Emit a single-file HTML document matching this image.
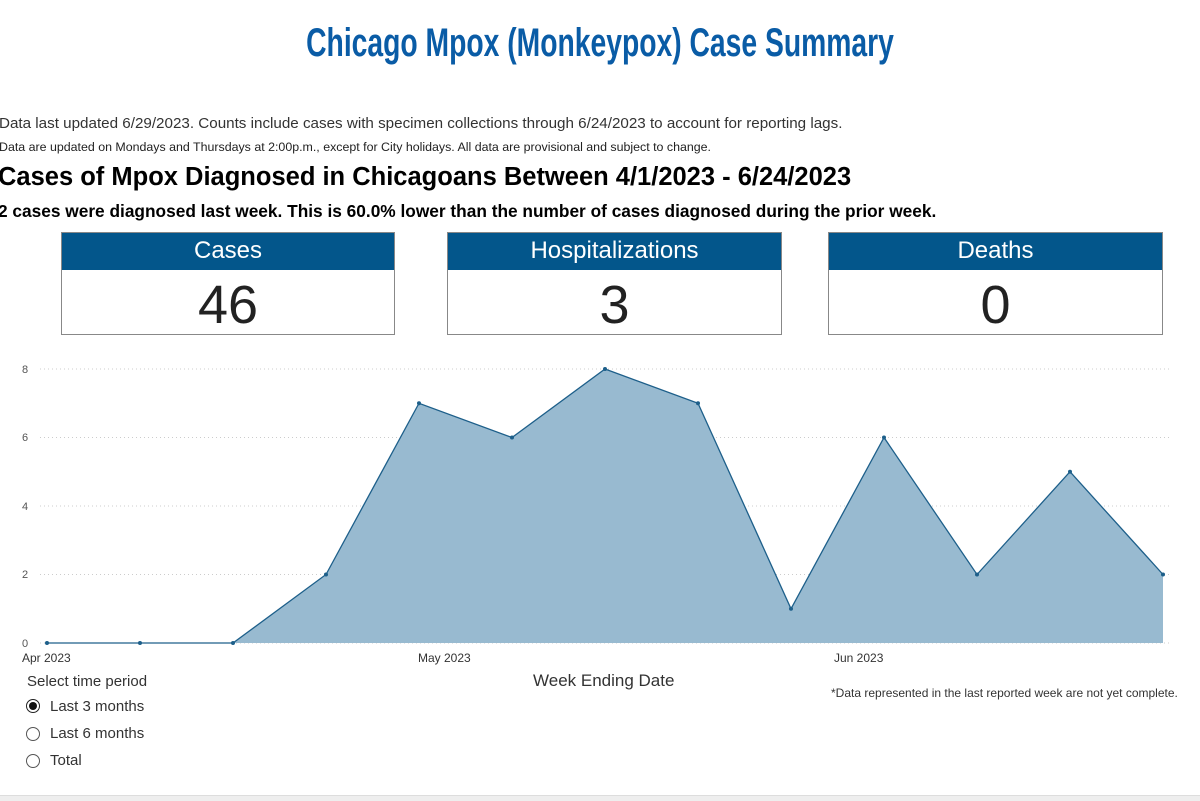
<!DOCTYPE html>
<html><head><meta charset="utf-8"><style>
body{margin:0;width:1200px;height:800px;background:#fff;position:relative;overflow:hidden;font-family:"Liberation Sans",sans-serif;}
.a{position:absolute;white-space:nowrap;}
.box{position:absolute;top:232px;height:101px;border:1px solid #888;background:#fff;}
.box .h{height:37px;background:#03568b;color:#fff;font-size:24px;text-align:center;line-height:36px;}
.box .v{font-size:54px;color:#222;text-align:center;line-height:70px;}
.r{position:absolute;left:26px;width:14px;height:14px;border:1px solid #555;border-radius:50%;box-sizing:border-box;}
</style></head><body>
<div class="a" style="left:0;width:1200px;text-align:center;top:21px;font-weight:bold;font-size:40px;color:#0a5ca6;transform:scaleX(0.707);transform-origin:600px 0;">Chicago Mpox (Monkeypox) Case Summary</div>
<div class="a" style="left:-1px;top:115px;font-size:15.2px;color:#333;">Data last updated 6/29/2023. Counts include cases with specimen collections through 6/24/2023 to account for reporting lags.</div>
<div class="a" style="left:-1px;top:140px;font-size:12.4px;color:#222;">Data are updated on Mondays and Thursdays at 2:00p.m., except for City holidays. All data are provisional and subject to change.</div>
<div class="a" style="left:-2px;top:163px;font-size:25.5px;font-weight:bold;color:#000;">Cases of Mpox Diagnosed in Chicagoans Between 4/1/2023 - 6/24/2023</div>
<div class="a" style="left:-2px;top:201px;font-size:17.3px;font-weight:bold;color:#000;">2 cases were diagnosed last week. This is 60.0% lower than the number of cases diagnosed during the prior week.</div>
<div class="box" style="left:61px;width:332px;"><div class="h">Cases</div><div class="v">46</div></div>
<div class="box" style="left:447px;width:333px;"><div class="h">Hospitalizations</div><div class="v">3</div></div>
<div class="box" style="left:828px;width:333px;"><div class="h">Deaths</div><div class="v">0</div></div>
<svg class="a" style="left:0;top:0" width="1200" height="800">
<g stroke="#ccc" stroke-dasharray="1,3" stroke-width="1">
<line x1="40" x2="1170" y1="369" y2="369"/><line x1="40" x2="1170" y1="437.5" y2="437.5"/><line x1="40" x2="1170" y1="506" y2="506"/><line x1="40" x2="1170" y1="574.5" y2="574.5"/><line x1="40" x2="1170" y1="643" y2="643"/>
</g>
<g font-size="11" fill="#555" font-family="Liberation Sans" text-anchor="middle">
<text x="25" y="373">8</text><text x="25" y="441">6</text><text x="25" y="510">4</text><text x="25" y="578">2</text><text x="25" y="647">0</text>
</g>
<polygon fill="#98bad0" points="47,643 140,643 233,643 326,574.5 419,403.25 512,437.5 605,369 698,403.25 791,608.75 884,437.5 977,574.5 1070,471.75 1163,574.5 1163,643"/>
<polyline fill="none" stroke="#1d5f8a" stroke-width="1.3" points="47,643 140,643 233,643 326,574.5 419,403.25 512,437.5 605,369 698,403.25 791,608.75 884,437.5 977,574.5 1070,471.75 1163,574.5"/>
<g fill="#1d5f8a">
<circle cx="47" cy="643" r="2"/><circle cx="140" cy="643" r="2"/><circle cx="233" cy="643" r="2"/><circle cx="326" cy="574.5" r="2"/><circle cx="419" cy="403.25" r="2"/><circle cx="512" cy="437.5" r="2"/><circle cx="605" cy="369" r="2"/><circle cx="698" cy="403.25" r="2"/><circle cx="791" cy="608.75" r="2"/><circle cx="884" cy="437.5" r="2"/><circle cx="977" cy="574.5" r="2"/><circle cx="1070" cy="471.75" r="2"/><circle cx="1163" cy="574.5" r="2"/>
</g>
<g font-size="12" fill="#333" font-family="Liberation Sans">
<text x="22" y="662">Apr 2023</text><text x="418" y="662">May 2023</text><text x="834" y="662">Jun 2023</text>
</g>
</svg>
<div class="a" style="left:533px;top:671px;font-size:17px;color:#333;">Week Ending Date</div>
<div class="a" style="left:831px;top:686px;font-size:12px;color:#333;">*Data represented in the last reported week are not yet complete.</div>
<div class="a" style="left:27px;top:673px;font-size:15px;color:#333;">Select time period</div>
<div class="r" style="top:699px;border-color:#222;"><div style="position:absolute;left:2px;top:2px;width:8px;height:8px;border-radius:50%;background:#111;"></div></div>
<div class="a" style="left:50px;top:698px;font-size:15px;color:#333;">Last 3 months</div>
<div class="r" style="top:727px;"></div>
<div class="a" style="left:50px;top:725px;font-size:15px;color:#333;">Last 6 months</div>
<div class="r" style="top:754px;"></div>
<div class="a" style="left:50px;top:752px;font-size:15px;color:#333;">Total</div>
<div class="a" style="left:0;top:795px;width:1200px;height:5px;background:#eee;border-top:1px solid #ddd;"></div>
</body></html>
